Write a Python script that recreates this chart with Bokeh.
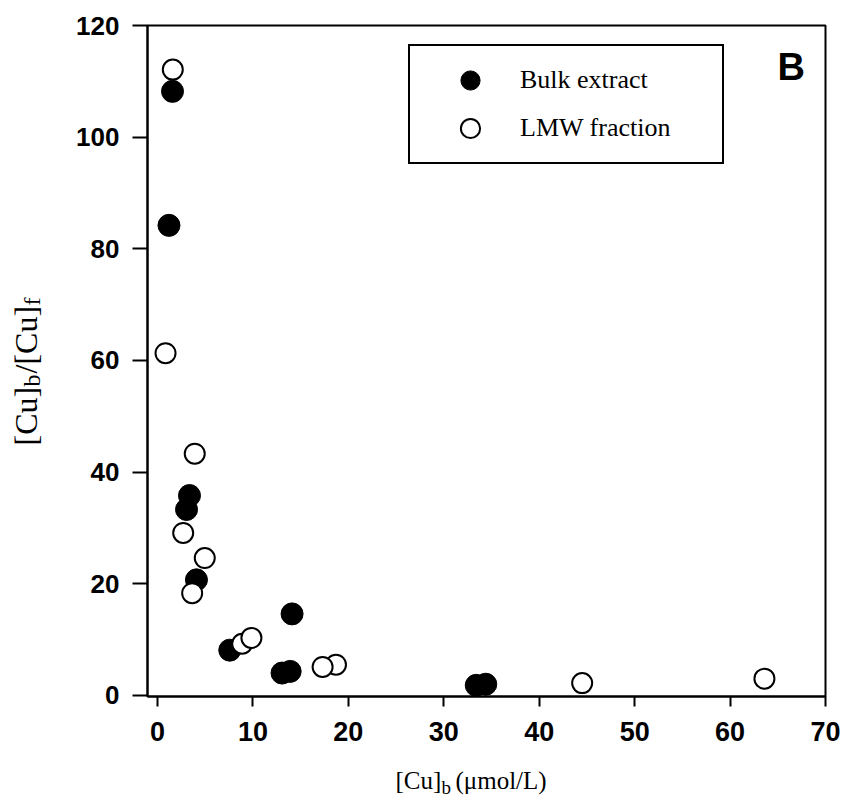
import math
from bokeh.plotting import figure
from bokeh.models import Range1d, FixedTicker, Label, Legend, LegendItem
from bokeh.layouts import row, column
from bokeh.embed import file_html
from bokeh.resources import INLINE

# ---- data ----
bulk_x = [1.57, 1.2, 3.35, 3.04, 4.08, 14.1, 7.57, 13.05, 13.9, 33.4, 34.4]
bulk_y = [108.2, 84.2, 35.8, 33.3, 20.7, 14.6, 8.1, 4.0, 4.3, 1.8, 2.0]
lmw_x = [1.6, 0.84, 3.9, 2.69, 4.95, 3.63, 8.87, 9.84, 18.7, 17.3, 44.5, 63.6]
lmw_y = [112.1, 61.3, 43.3, 29.1, 24.6, 18.3, 9.25, 10.3, 5.5, 5.1, 2.2, 3.0]
x_ticks = [0, 10, 20, 30, 40, 50, 60, 70]
y_ticks = [0, 20, 40, 60, 80, 100, 120]
series_names = ["Bulk extract", "LMW fraction"]
panel_tag = "B"

SANS = "Liberation Sans"
SERIF = "Liberation Serif"

LEFT_W = 60      # strip holding the y-axis title
BOTTOM_H = 50    # strip holding the x-axis title
W, H = 842, 804
FL, FR = 147, 825   # frame left / right (page px)

p = figure(width=W - LEFT_W, height=H - BOTTOM_H, output_backend="svg", toolbar_location=None,
           x_range=Range1d(-1.05, 70), y_range=Range1d(-0.2, 120),
           min_border_left=FL - LEFT_W, min_border_right=W - FR, min_border_top=25,
           min_border_bottom=(H - 696) - BOTTOM_H)
p.grid.visible = False
p.outline_line_color = "black"
p.outline_line_width = 2
p.background_fill_color = "white"
p.border_fill_color = "white"

for ax, ticks, tick_len, standoff, fs in ((p.xaxis[0], x_ticks, 10, 15, "27px"),
                                          (p.yaxis[0], y_ticks, 15, 13, "26px")):
    ax.ticker = FixedTicker(ticks=ticks)
    ax.axis_line_width = 2
    ax.axis_line_color = "black"
    ax.major_tick_line_width = 2
    ax.major_tick_in = 0
    ax.major_tick_out = tick_len
    ax.minor_tick_line_color = None
    ax.major_label_text_font = SANS
    ax.major_label_text_font_style = "bold"
    ax.major_label_text_font_size = fs
    ax.major_label_text_color = "black"
    ax.major_label_standoff = standoff

r_bulk = p.scatter(bulk_x, bulk_y, size=22, marker="circle",
                   fill_color="black", line_color="black", line_width=1)
r_lmw = p.scatter(lmw_x, lmw_y, size=20, marker="circle",
                  fill_color="white", line_color="black", line_width=2)

legend = Legend(items=[LegendItem(label=series_names[0], renderers=[r_bulk]),
                       LegendItem(label=series_names[1], renderers=[r_lmw])],
                location=(261, 532), orientation="vertical",
                label_text_font=SERIF, label_text_font_size="26px",
                label_text_color="black",
                glyph_width=100, glyph_height=48, spacing=0, padding=10,
                margin=0, label_standoff=0, label_width=192,
                border_line_color="black", border_line_width=2, border_line_alpha=1.0,
                background_fill_color="white", background_fill_alpha=1.0)
p.add_layout(legend, "center")

# panel tag
p.add_layout(Label(x=630, y=630, x_units="screen", y_units="screen", text=panel_tag,
                   text_font=SANS, text_font_style="bold", text_font_size="38px",
                   text_color="black", text_baseline="alphabetic"))


def blank(w, h, xr, yr, **borders):
    f = figure(width=w, height=h, output_backend="svg", toolbar_location=None,
               x_range=Range1d(*xr), y_range=Range1d(*yr),
               x_axis_location=None, y_axis_location=None, min_border=0, **borders)
    f.grid.visible = False
    f.outline_line_color = None
    f.background_fill_color = "white"
    f.border_fill_color = "white"
    return f


def lab(f, x, y, t, size, angle=0.0):
    f.add_layout(Label(x=x, y=y, text=t, text_font=SERIF, text_font_size=size,
                       text_color="black", text_baseline="alphabetic",
                       text_align="left", angle=angle))


# x-axis title: [Cu]_b (μmol/L)  -- strip shares the main frame's borders,
# its x range is expressed in page pixels of the frame span
fx = blank(W - LEFT_W, BOTTOM_H, (FL, FR), (0, BOTTOM_H),
           min_border_left=FL - LEFT_W, min_border_right=W - FR)
lab(fx, 395, 24, "[Cu]", "25px")
lab(fx, 441, 17, "b", "19px")
lab(fx, 455, 24, "(μmol/L)", "25px")

# y-axis title: [Cu]_b/[Cu]_f (rotated)
fy = blank(LEFT_W, H, (0, LEFT_W), (0, H))
a = math.pi / 2
lab(fy, 25, 359, "[Cu]", "32px", a)
lab(fy, 31, 418, "b", "24px", a)
lab(fy, 25, 431, "/[Cu]", "32px", a)
lab(fy, 31, 499, "f", "24px", a)

layout = row(fy, column(p, fx))
open("out.html", "w").write(file_html(layout, INLINE))
